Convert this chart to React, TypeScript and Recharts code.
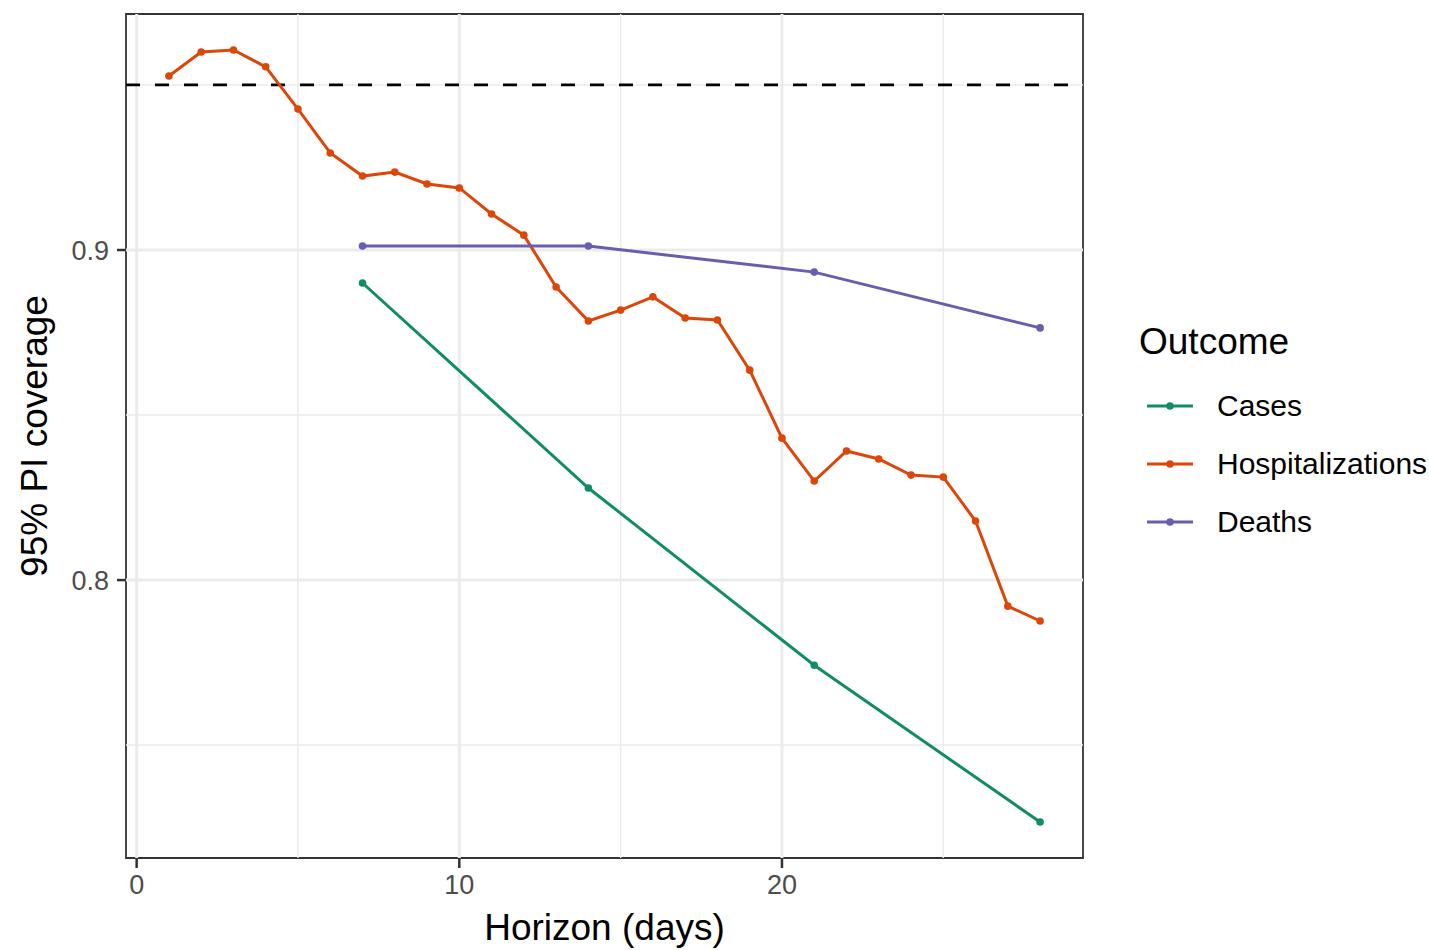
import React from "react";
import {
  LineChart,
  Line,
  XAxis,
  YAxis,
  ReferenceLine,
  ReferenceArea,
} from "recharts";

const horizons = Array.from({ length: 28 }, (_, i) => i + 1);
const hospValues = [
  0.9527, 0.96, 0.9606, 0.9555, 0.9427, 0.9294, 0.9224, 0.9236, 0.92, 0.9188,
  0.9109, 0.9045, 0.8888, 0.8785, 0.8818, 0.8858, 0.8794, 0.8788, 0.8636, 0.843,
  0.83, 0.8391, 0.8367, 0.8318, 0.8312, 0.8179, 0.7921, 0.7876,
];
const weeklyHorizons = [7, 14, 21, 28];
const casesValues = [0.89, 0.8279, 0.7742, 0.7267];
const deathsValues = [0.9012, 0.9012, 0.8933, 0.8764];

const xTicks = [0, 10, 20];
const yTicks = [0.8, 0.9];
const xMinorGrid = [5, 15, 25];
const yMinorGrid = [0.75, 0.85, 0.95];
const targetCoverage = 0.95;

const seriesNames = ["Cases", "Hospitalizations", "Deaths"];
const seriesColors = ["#118C67", "#DC4608", "#6A5DAE"];

const xDomain: [number, number] = [-0.33, 29.33];
const yDomain: [number, number] = [0.7158, 0.9715];

const data = horizons.map((h, i) => {
  const wi = weeklyHorizons.indexOf(h);
  return {
    horizon: h,
    Hospitalizations: hospValues[i],
    Cases: wi >= 0 ? casesValues[wi] : null,
    Deaths: wi >= 0 ? deathsValues[wi] : null,
  };
});

const FONT = "Liberation Sans, Arial, sans-serif";

const LegendBox = () => (
  <div
    style={{
      position: "absolute",
      left: 1139,
      top: 318,
      fontFamily: FONT,
    }}
  >
    <div style={{ fontSize: 37, color: "#000", lineHeight: "48px", marginBottom: 11 }}>
      Outcome
    </div>
    {seriesNames.map((n, i) => (
      <div key={n} style={{ display: "flex", alignItems: "center", height: 58 }}>
        <svg width={56} height={20} style={{ marginLeft: 6 }}>
          <line x1={2} y1={10} x2={48} y2={10} stroke={seriesColors[i]} strokeWidth={3} />
          <circle cx={25} cy={10} r={3.8} fill={seriesColors[i]} />
        </svg>
        <span style={{ fontSize: 30, color: "#000", marginLeft: 16 }}>{n}</span>
      </div>
    ))}
  </div>
);

export default function App() {
  return (
    <div style={{ position: "absolute", left: 0, top: 0, width: 1429, height: 950, background: "#fff" }}>
      <LineChart
        width={1429}
        height={950}
        data={data}
        margin={{ top: 14, right: 346, bottom: 0, left: 56 }}
      >
        <XAxis
          dataKey="horizon"
          type="number"
          domain={xDomain}
          ticks={xTicks}
          allowDataOverflow
          height={92}
          tickLine={{ stroke: "#333", strokeWidth: 2.5 }}
          tickSize={10}
          axisLine={false}
          tick={{ fill: "#4D4D4D", fontSize: 27, fontFamily: FONT, dy: 5 }}
          label={{
            value: "Horizon (days)",
            position: "insideBottom",
            offset: 10,
            fill: "#000",
            fontSize: 37,
            fontFamily: FONT,
          }}
        />
        <YAxis
          type="number"
          domain={yDomain}
          ticks={yTicks}
          allowDataOverflow
          width={70}
          tickLine={{ stroke: "#333", strokeWidth: 2.5 }}
          tickSize={9}
          axisLine={false}
          tickFormatter={(v: number) => v.toFixed(1)}
          tick={{ fill: "#4D4D4D", fontSize: 27, fontFamily: FONT, dx: -6 }}
          label={{
            value: "95% PI coverage",
            angle: -90,
            position: "insideLeft",
            offset: -22,
            fill: "#000",
            fontSize: 37,
            fontFamily: FONT,
            style: { textAnchor: "middle" },
          }}
        />
        {xMinorGrid.map((v) => (
          <ReferenceLine key={"xm" + v} x={v} stroke="#EBEBEB" strokeWidth={1.5} />
        ))}
        {yMinorGrid.map((v) => (
          <ReferenceLine key={"ym" + v} y={v} stroke="#EBEBEB" strokeWidth={1.5} />
        ))}
        {xTicks.map((v) => (
          <ReferenceLine key={"xM" + v} x={v} stroke="#EBEBEB" strokeWidth={3} />
        ))}
        {yTicks.map((v) => (
          <ReferenceLine key={"yM" + v} y={v} stroke="#EBEBEB" strokeWidth={3} />
        ))}
        <ReferenceLine
          y={targetCoverage}
          stroke="#000"
          strokeWidth={2.8}
          strokeDasharray="14 15"
        />
        <Line
          dataKey="Cases"
          stroke={seriesColors[0]}
          strokeWidth={3}
          dot={{ r: 3.8, fill: seriesColors[0], stroke: "none" }}
          connectNulls
          isAnimationActive={false}
        />
        <Line
          dataKey="Hospitalizations"
          stroke={seriesColors[1]}
          strokeWidth={3}
          dot={{ r: 3.8, fill: seriesColors[1], stroke: "none" }}
          isAnimationActive={false}
        />
        <Line
          dataKey="Deaths"
          stroke={seriesColors[2]}
          strokeWidth={3}
          dot={{ r: 3.8, fill: seriesColors[2], stroke: "none" }}
          connectNulls
          isAnimationActive={false}
        />
        <ReferenceArea
          x1={xDomain[0]}
          x2={xDomain[1]}
          y1={yDomain[0]}
          y2={yDomain[1]}
          fill="none"
          stroke="#333"
          strokeWidth={1.8}
        />
      </LineChart>
      <LegendBox />
    </div>
  );
}
